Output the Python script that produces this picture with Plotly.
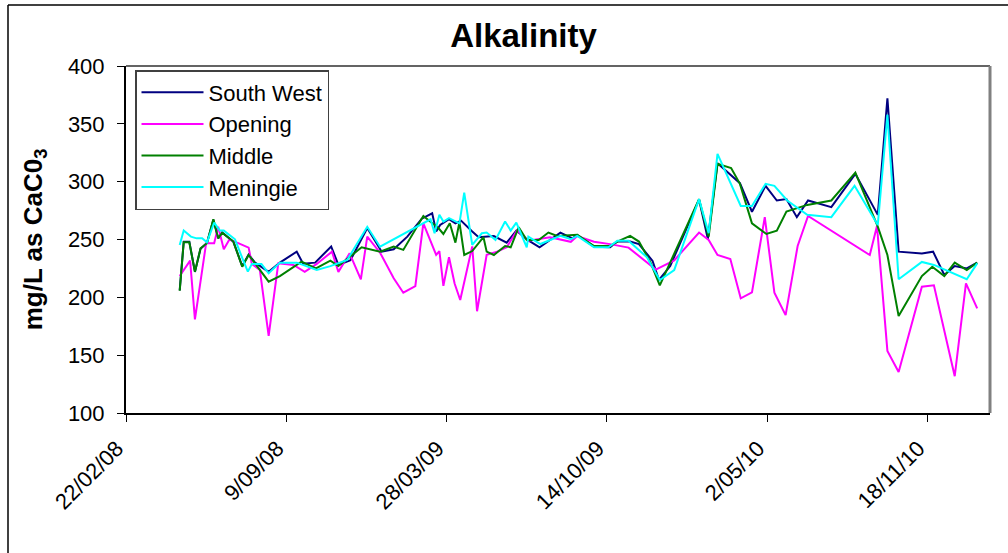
import pandas as pd
import plotly.graph_objects as go

# Dates stored as Excel serial day numbers
sw_dates = [39567,39572,39579,39586,39593,39601,39609,39615,39620,39634,39645,39653,39661,39678,39692,39713,39721,39736,39756,39765,39780,39801,39819,39834,39851,39869,39882,39887,39892,39903,39911,39918,39932,39940,39959,39975,39987,40001,40016,40042,40057,40063,40084,40104,40113,40129,40140,40157,40165,40179,40215,40226,40238,40255,40266,40281,40298,40312,40324,40337,40351,40380,40410,40438,40450,40464,40493,40507,40521,40534,40549,40562]
sw_vals = [206,248,248,222,242,247,267,251,256,248,227,237,230,222,230,239.5,229,230,244,228,232,260,239.5,241.6,252.5,268,272.7,257,262.6,267.5,264,266.3,257,252,253,247.3,257.7,249.6,243.3,256,251,254,243.8,243.3,248.2,248.2,246.1,231.5,215,227,284.5,250.5,316,305,298.7,274,296.4,283.7,285,269.3,283.7,278,306.8,271.3,372,239.5,238,239.5,219.3,227,225,230]

op_dates = [39567,39580,39586,39600,39610,39615,39622,39629,39640,39653,39657,39667,39678,39690,39709,39723,39738,39757,39765,39779,39793,39801,39817,39834,39846,39861,39871,39887,39891,39896,39903,39910,39917,39932,39938,39950,39963,39975,39988,40002,40029,40055,40063,40084,40104,40127,40161,40184,40215,40227,40238,40254,40267,40281,40297,40309,40323,40338,40351,40428,40437,40450,40464,40493,40508,40534,40548,40562]
op_vals = [218.5,231.7,181,246.8,246.8,261,241.6,250,246.8,243,228.9,223.7,166.7,229.4,228,222,228.9,239.5,222,238,215.6,252.5,238.6,216.5,204,209.8,264,236.7,240,210,234.7,212,197.7,244,188,236.7,239.5,243.3,258,249,252,248,253,248,246,243,224,232,256,249.6,236.6,233.1,199.1,204.3,269.3,204,184.6,244.4,270.4,236.6,261.7,153.7,135.5,209.2,210.4,131.8,212.1,190.4]

mid_dates = [39567,39572,39579,39586,39593,39601,39609,39615,39620,39634,39645,39653,39661,39678,39692,39719,39737,39755,39765,39780,39794,39817,39834,39846,39871,39876,39890,39896,39904,39911,39916,39922,39932,39946,39950,39959,39973,39980,39990,40000,40015,40027,40038,40063,40084,40104,40113,40129,40140,40154,40166,40215,40227,40238,40255,40266,40281,40299,40312,40324,40350,40380,40410,40438,40450,40464,40493,40506,40521,40534,40549,40562]
mid_vals = [205.7,247.6,247.6,222.2,242.4,246.8,267.5,251,255.9,248.2,226.5,236.6,229.4,213.5,218.4,230.8,225.1,231.7,227.1,235.8,243.3,239.5,243.8,241,270.4,267.5,259.7,254.8,264,247.3,265,236.6,240,252,239.5,236.6,244.4,243.3,260.6,249.6,249.6,256,253.1,254,244.4,244.4,248.2,253.1,248.2,230.8,210.4,284.9,252.5,315.4,311.7,298.1,264,254.8,257.7,274.1,279.9,283.7,307.9,261.1,236.6,183.8,218.4,226.5,218.4,230,223.6,230]

men_dates = [39567,39572,39581,39588,39595,39601,39610,39617,39622,39636,39646,39652,39657,39669,39678,39692,39713,39738,39755,39776,39801,39817,39880,39885,39891,39896,39903,39911,39916,39922,39932,39944,39950,39961,39973,39980,39987,40000,40002,40017,40042,40055,40063,40084,40102,40113,40127,40150,40166,40184,40215,40227,40238,40267,40281,40298,40309,40325,40350,40380,40409,40438,40450,40464,40493,40508,40549,40562]
men_vals = [245.3,257.7,252.5,251,251,247.6,264.6,257.7,257.7,250.2,232.3,222.2,228.8,228.8,220.8,230,230,223.6,227,232.3,261,243.8,267.5,255.4,271.3,265.5,268.4,265.5,264,290.6,245.3,255.4,256,249.6,265.5,257.7,264.6,243.3,252.5,246.1,253.1,250.2,253.1,243.3,243.3,249,249,234.6,215,223.6,284.9,255.4,324.1,279,279,298.1,296.4,283.7,271.3,269.3,296.4,262.6,357.9,215.6,230.6,228,215.6,229.4]

series_names = ["South West", "Opening", "Middle", "Meningie"]
series_colors = ["#000080", "#FF00FF", "#008000", "#00FFFF"]
x_range_serial = [39500, 40578]
y_range = [100, 400]


def to_date(serials):
    return pd.to_datetime(pd.Series(serials), unit="D", origin="1899-12-30")


FONT = "Liberation Sans, Arial, sans-serif"

fig = go.Figure()
for name, color, d, v in zip(series_names, series_colors,
                             [sw_dates, op_dates, mid_dates, men_dates],
                             [sw_vals, op_vals, mid_vals, men_vals]):
    fig.add_trace(go.Scatter(x=to_date(d), y=v, mode="lines", name=name,
                             line=dict(color=color, width=2)))

xr = to_date(x_range_serial)

fig.update_layout(
    width=1008, height=553,
    margin=dict(l=126, r=18, t=66, b=140),
    paper_bgcolor="white", plot_bgcolor="white",
    font=dict(family=FONT, color="black", size=22),
    title=dict(text="<b>Alkalinity</b>", font=dict(size=33, family=FONT),
               x=523.5 / 1008, xanchor="center", y=1 - 35 / 553, yanchor="middle"),
    showlegend=True,
    legend=dict(x=(135 - 126) / 864, y=(412.7 - 70) / 346.7, xanchor="left", yanchor="top",
                bgcolor="white", bordercolor="#404040", borderwidth=1.5,
                font=dict(size=22, family=FONT), itemwidth=62,
                tracegroupgap=0),
)

fig.update_xaxes(
    type="date", range=[xr[0], xr[1]],
    tick0=xr[0], dtick=200 * 86400000, tickformat="%-d/%m/%y",
    tickangle=-45, ticks="outside", ticklen=7, tickcolor="black", tickwidth=1,
    ticklabelshift=-9, ticklabelstandoff=5,
    showline=True, linecolor="black", linewidth=2, showgrid=False, zeroline=False,
    tickfont=dict(size=22, family=FONT),
)
fig.update_yaxes(
    range=y_range, dtick=50, ticks="outside", ticklen=7, tickcolor="black", tickwidth=1,
    showline=True, linecolor="black", linewidth=2, showgrid=False, zeroline=False,
    tickfont=dict(size=22, family=FONT), ticklabelstandoff=8,
    title=dict(text="<b>mg/L as CaC0<sub>3</sub></b>", font=dict(size=26, family=FONT), standoff=18),
)

# plot-area frame (top dark, right grey shadow) and outer chart border
fig.add_shape(type="line", xref="paper", yref="paper", x0=0, x1=1, y0=1, y1=1,
              line=dict(color="#303030", width=1.5))
fig.add_shape(type="line", xref="paper", yref="paper", x0=1, x1=1, y0=0, y1=1,
              line=dict(color="#808080", width=3))
fig.add_shape(type="line", xref="paper", yref="paper",
              x0=(8 - 126) / 864, x1=(8 - 126) / 864, y0=(412.7 - 560) / 346.7, y1=(412.7 - 5) / 346.7,
              line=dict(color="black", width=1.5))
fig.add_shape(type="line", xref="paper", yref="paper",
              x0=(8 - 126) / 864, x1=(1020 - 126) / 864, y0=(412.7 - 5) / 346.7, y1=(412.7 - 5) / 346.7,
              line=dict(color="black", width=1.5))

fig.write_html("out.html")
